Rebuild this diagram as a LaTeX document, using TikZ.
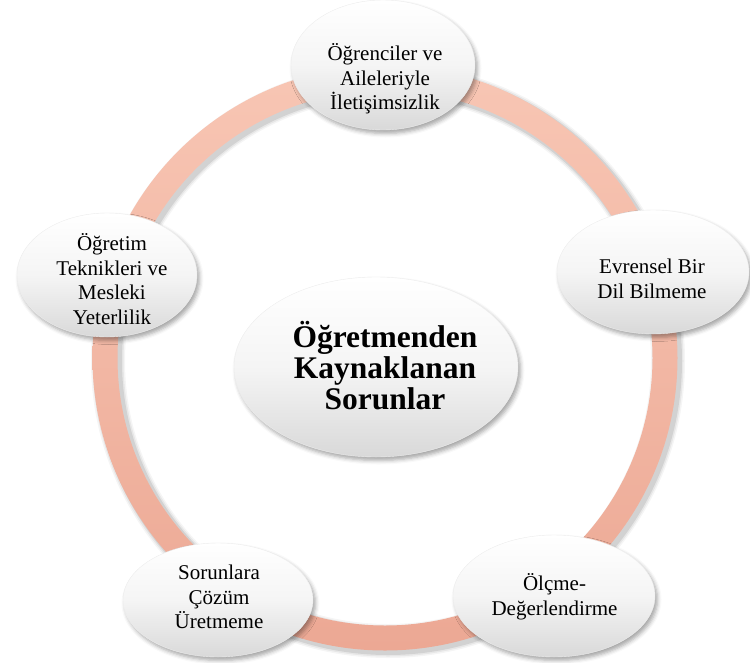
\documentclass[tikz,border=0pt]{standalone}
\usepackage{fontspec}
\setmainfont{Liberation Serif}
\usetikzlibrary{shapes.geometric,shadows.blur}
\definecolor{ringtop}{RGB}{248,198,180}
\definecolor{ringbot}{RGB}{236,168,148}
\begin{document}
\begin{tikzpicture}[x=1pt,y=-1pt,
  bubble/.style={ellipse, inner sep=0pt, top color=white, bottom color=black!15,
    middle color=white!96!black, draw=black!7, line width=0.4pt,
    blur shadow={shadow xshift=2.5pt, shadow yshift=-3.5pt,
      shadow blur radius=4pt, shadow opacity=35}},
  smalltext/.style={align=center, font=\fontsize{21}{24.5}\selectfont},
  bigtext/.style={align=center, font=\fontsize{31.5}{31}\selectfont\bfseries}]
\useasboundingbox (0,0) rectangle (750,662);

% soft shadow under the ring
\coordinate (ringc) at (385,358);
\coordinate (rings) at (388,361);
\foreach \w/\o in {34/0.04, 31/0.06, 28/0.09}
  \draw[black, opacity=\o, line width=\w pt] (rings) circle[radius=280pt];

% the ring
\path[top color=ringtop, bottom color=ringbot, even odd rule]
  (ringc) circle[radius=292.5pt] (ringc) circle[radius=267.5pt];

% outer bubbles
\node[bubble, minimum width=184pt, minimum height=130pt] (top) at (383,65) {};
\node[smalltext] (toptext) at (385,79) {Öğrenciler ve\\Aileleriyle\\İletişimsizlik};

\node[bubble, minimum width=192pt, minimum height=124pt] (right) at (653,272) {};
\node[smalltext] (righttext) at (652,279) {Evrensel Bir\\Dil Bilmeme};

\node[bubble, minimum width=202pt, minimum height=122pt] (botright) at (554,596) {};
\node[smalltext] (botrighttext) at (554.5,597) {Ölçme-\\Değerlendirme};

\node[bubble, minimum width=190pt, minimum height=114pt] (botleft) at (218,600) {};
\node[smalltext] (botlefttext) at (219,597) {Sorunlara\\Çözüm\\Üretmeme};

\node[bubble, minimum width=180pt, minimum height=124pt] (left) at (107,275) {};
\node[smalltext] (lefttext) at (112,279) {Öğretim\\Teknikleri ve\\Mesleki\\Yeterlilik};

% central bubble
\node[bubble, minimum width=284pt, minimum height=180pt] (center) at (376,367) {};
\node[bigtext] (centertext) at (385,366) {Öğretmenden\\Kaynaklanan\\Sorunlar};
\end{tikzpicture}
\end{document}
